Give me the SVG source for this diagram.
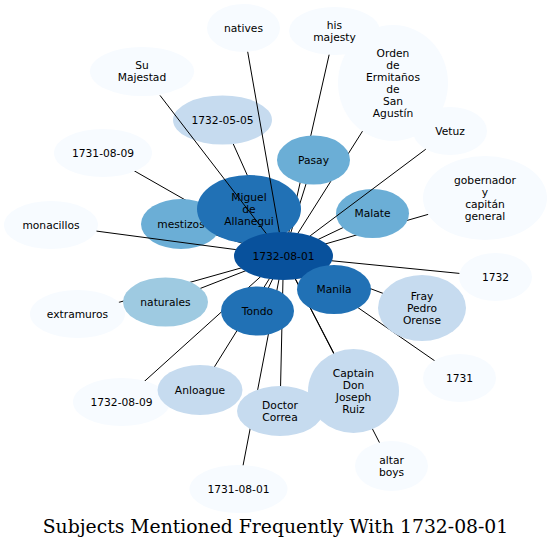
<svg xmlns="http://www.w3.org/2000/svg" width="552" height="550" viewBox="0 0 552 550">
<style>
.e line{stroke:#000;stroke-width:1}
text{font-family:"DejaVu Sans",sans-serif;font-size:10.7px;fill:#000;text-anchor:middle}
.t{font-family:"DejaVu Serif",serif;font-size:18.8px}
.c0{fill:#f7fbff}.c1{fill:#c6dbef}.c2{fill:#9ecae1}.c3{fill:#6baed6}.c4{fill:#2171b5}.c5{fill:#08519c}
</style>
<rect width="552" height="550" fill="#fff"/>
<g id="edges-under" class="e">
<line x1="283.5" y1="256" x2="334.5" y2="31"/>
<line x1="283.5" y1="256" x2="393" y2="83"/>
<line x1="283.5" y1="256" x2="313.5" y2="160"/>
<line x1="283.5" y1="256" x2="222.5" y2="120"/>
<line x1="283.5" y1="256" x2="249" y2="209"/>
<line x1="283.5" y1="256" x2="181" y2="224"/>
<line x1="283.5" y1="256" x2="103" y2="153"/>
<line x1="283.5" y1="256" x2="165.5" y2="302"/>
<line x1="283.5" y1="256" x2="77.5" y2="314"/>
<line x1="283.5" y1="256" x2="121.5" y2="402"/>
<line x1="283.5" y1="256" x2="200" y2="390"/>
<line x1="283.5" y1="256" x2="257.5" y2="311"/>
<line x1="283.5" y1="256" x2="238.5" y2="489"/>
<line x1="283.5" y1="256" x2="280" y2="411"/>
<line x1="283.5" y1="256" x2="353.5" y2="391"/>
<line x1="283.5" y1="256" x2="391.5" y2="466"/>
<line x1="283.5" y1="256" x2="334" y2="289.5"/>
<line x1="283.5" y1="256" x2="422" y2="308"/>
<line x1="283.5" y1="256" x2="459.5" y2="378"/>
<line x1="283.5" y1="256" x2="372.5" y2="213.5"/>
<line x1="283.5" y1="256" x2="485" y2="198"/>
</g>
<g id="n-natives"><ellipse class="c0" cx="243.5" cy="28" rx="36.5" ry="24"/><text x="243.5" y="31.8">natives</text></g>
<g id="n-his-majesty"><ellipse class="c0" cx="334.5" cy="31" rx="45.5" ry="24"/><text x="334.5" y="28.8">his</text><text x="334.5" y="40.8">majesty</text></g>
<g id="n-orden"><ellipse class="c0" cx="393" cy="83" rx="55" ry="58"/><text x="393" y="56.8">Orden</text><text x="393" y="68.8">de</text><text x="393" y="80.8">Ermitaños</text><text x="393" y="92.8">de</text><text x="393" y="104.8">San</text><text x="393" y="116.8">Agustín</text></g>
<g id="n-vetuz"><ellipse class="c0" cx="450" cy="131" rx="37" ry="24"/><text x="450" y="134.8">Vetuz</text></g>
<g id="n-su-majestad"><ellipse class="c0" cx="142" cy="71.5" rx="52" ry="24.5"/><text x="142" y="69.3">Su</text><text x="142" y="81.3">Majestad</text></g>
<g id="n-1731-08-09"><ellipse class="c0" cx="103" cy="153" rx="49" ry="24"/><text x="103" y="156.8">1731-08-09</text></g>
<g id="n-monacillos"><ellipse class="c0" cx="51" cy="225" rx="47" ry="24"/><text x="51" y="228.8">monacillos</text></g>
<g id="n-gobernador"><ellipse class="c0" cx="485" cy="198" rx="62" ry="42"/><text x="485" y="183.8">gobernador</text><text x="485" y="195.8">y</text><text x="485" y="207.8">capitán</text><text x="485" y="219.8">general</text></g>
<g id="n-1732"><ellipse class="c0" cx="495.5" cy="277" rx="36.5" ry="24"/><text x="495.5" y="280.8">1732</text></g>
<g id="n-extramuros"><ellipse class="c0" cx="77.5" cy="314" rx="47.5" ry="24"/><text x="77.5" y="317.8">extramuros</text></g>
<g id="n-1731"><ellipse class="c0" cx="459.5" cy="378" rx="36.5" ry="24"/><text x="459.5" y="381.8">1731</text></g>
<g id="n-1732-08-09"><ellipse class="c0" cx="121.5" cy="402" rx="48.5" ry="24"/><text x="121.5" y="405.8">1732-08-09</text></g>
<g id="n-1731-08-01"><ellipse class="c0" cx="238.5" cy="489" rx="49" ry="24"/><text x="238.5" y="492.8">1731-08-01</text></g>
<g id="n-altar-boys"><ellipse class="c0" cx="391.5" cy="466" rx="36.5" ry="25"/><text x="391.5" y="463.8">altar</text><text x="391.5" y="475.8">boys</text></g>
<g id="n-1732-05-05"><ellipse class="c1" cx="222.5" cy="120" rx="49.5" ry="24.5"/><text x="222.5" y="123.8">1732-05-05</text></g>
<g id="n-anloague"><ellipse class="c1" cx="200" cy="390" rx="42.5" ry="25"/><text x="200" y="393.8">Anloague</text></g>
<g id="n-doctor-correa"><ellipse class="c1" cx="280" cy="411" rx="43" ry="25"/><text x="280" y="408.8">Doctor</text><text x="280" y="420.8">Correa</text></g>
<g id="n-captain"><ellipse class="c1" cx="353.5" cy="391" rx="45.5" ry="42"/><text x="353.5" y="376.8">Captain</text><text x="353.5" y="388.8">Don</text><text x="353.5" y="400.8">Joseph</text><text x="353.5" y="412.8">Ruiz</text></g>
<g id="n-fray-pedro"><ellipse class="c1" cx="422" cy="308" rx="44" ry="33"/><text x="422" y="299.8">Fray</text><text x="422" y="311.8">Pedro</text><text x="422" y="323.8">Orense</text></g>
<g id="n-naturales"><ellipse class="c2" cx="165.5" cy="302" rx="42.5" ry="24.5"/><text x="165.5" y="305.8">naturales</text></g>
<g id="n-pasay"><ellipse class="c3" cx="313.5" cy="160" rx="36.5" ry="24.5"/><text x="313.5" y="163.8">Pasay</text></g>
<g id="n-malate"><ellipse class="c3" cx="372.5" cy="213.5" rx="36.5" ry="24.5"/><text x="372.5" y="217.3">Malate</text></g>
<g id="n-mestizos"><ellipse class="c3" cx="181" cy="224" rx="40" ry="25"/><text x="181" y="227.8">mestizos</text></g>
<g id="n-miguel"><ellipse class="c4" cx="249" cy="209" rx="52" ry="34"/><text x="249" y="200.8">Miguel</text><text x="249" y="212.8">de</text><text x="249" y="224.8">Allanegui</text></g>
<g id="n-tondo"><ellipse class="c4" cx="257.5" cy="311" rx="36.5" ry="24.5"/><text x="257.5" y="314.8">Tondo</text></g>
<g id="n-1732-08-01"><ellipse class="c5" cx="283.5" cy="256" rx="49.5" ry="24"/><text x="283.5" y="259.8">1732-08-01</text></g>
<g id="n-manila"><ellipse class="c4" cx="334" cy="289.5" rx="37" ry="24.5"/><text x="334" y="293.3">Manila</text></g>
<g id="edges-over" class="e">
<line x1="160" y1="95.4" x2="266.2" y2="233.5"/>
<line x1="247.7" y1="51.8" x2="279.3" y2="232.1"/>
<line x1="96.5" y1="231.1" x2="235.8" y2="249.6"/>
<line x1="425.8" y1="149.2" x2="310.2" y2="235.8"/>
<line x1="332" y1="260.8" x2="459.4" y2="273.4"/>
</g>
<text class="t" x="275.5" y="533">Subjects Mentioned Frequently With 1732-08-01</text>
</svg>
